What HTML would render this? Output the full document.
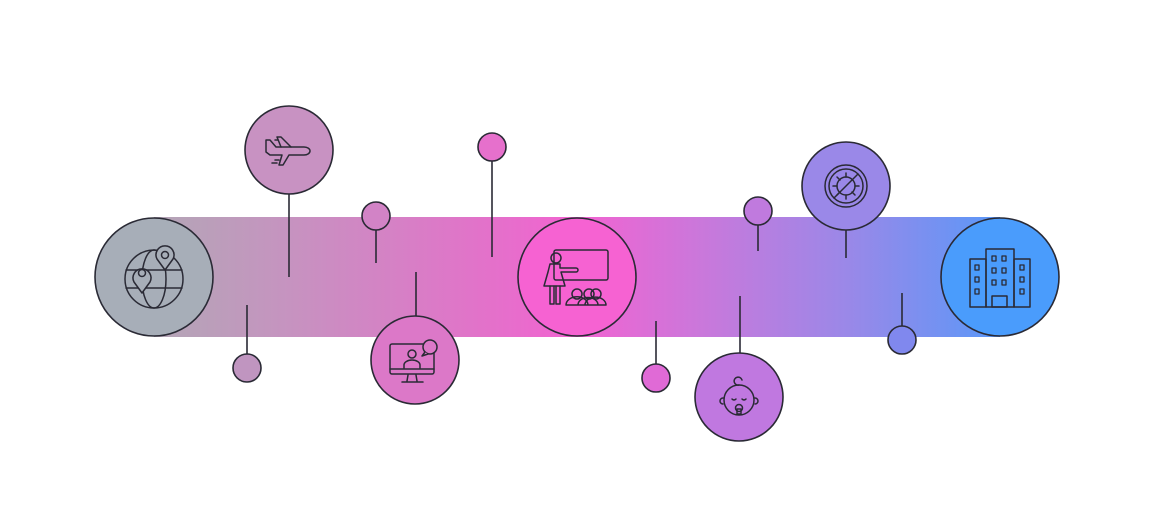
<!DOCTYPE html>
<html><head><meta charset="utf-8"><style>html,body{margin:0;padding:0;background:#fff}svg{display:block}</style></head>
<body>
<svg width="1154" height="529" viewBox="0 0 1154 529" xmlns="http://www.w3.org/2000/svg">
<defs>
<linearGradient id="g" x1="154" y1="0" x2="1000" y2="0" gradientUnits="userSpaceOnUse">
<stop offset="0" stop-color="#b3a6b6"/>
<stop offset="0.16" stop-color="#c693c0"/>
<stop offset="0.38" stop-color="#e173c9"/>
<stop offset="0.5" stop-color="#f263d1"/>
<stop offset="0.65" stop-color="#c978db"/>
<stop offset="0.82" stop-color="#9a88e8"/>
<stop offset="1" stop-color="#5a98f8"/>
</linearGradient>
</defs>
<rect x="154" y="217" width="846" height="120" fill="url(#g)"/>
<g stroke="#2a2a35" stroke-width="1.6" fill="none">
<line x1="289" y1="194" x2="289" y2="277"/>
<line x1="376" y1="230" x2="376" y2="263"/>
<line x1="492" y1="161" x2="492" y2="257"/>
<line x1="416" y1="272" x2="416" y2="316"/>
<line x1="247" y1="305" x2="247" y2="354"/>
<line x1="656" y1="321" x2="656" y2="364"/>
<line x1="740" y1="296" x2="740" y2="353"/>
<line x1="758" y1="225" x2="758" y2="251"/>
<line x1="846" y1="230" x2="846" y2="258"/>
<line x1="902" y1="293" x2="902" y2="326"/>
</g>
<g stroke="#2a2a35" stroke-width="1.6">
<circle cx="154" cy="277" r="59" fill="#a7aeb8"/>
<circle cx="289" cy="150" r="44" fill="#c892c2"/>
<circle cx="376" cy="216" r="14" fill="#d283c6"/>
<circle cx="492" cy="147" r="14" fill="#e670cc"/>
<circle cx="415" cy="360" r="44" fill="#dc78c8"/>
<circle cx="247" cy="368" r="14" fill="#c095c0"/>
<circle cx="577" cy="277" r="59" fill="#f662d2"/>
<circle cx="656" cy="378" r="14" fill="#e06ad6"/>
<circle cx="739" cy="397" r="44" fill="#c078e0"/>
<circle cx="758" cy="211" r="14" fill="#c07ade"/>
<circle cx="846" cy="186" r="44" fill="#9a88e8"/>
<circle cx="902" cy="340" r="14" fill="#8088ee"/>
<circle cx="1000" cy="277" r="59" fill="#4a9cfc"/>
</g>
<g stroke="#2a2a35" stroke-width="1.5" fill="none" stroke-linecap="round" stroke-linejoin="round">
<!-- globe -->
<circle cx="154" cy="279" r="29"/>
<ellipse cx="154" cy="279" rx="12" ry="29"/>
<line x1="126" y1="270" x2="182" y2="270"/><line x1="126" y1="288" x2="182" y2="288"/>
<path d="M142 293 l-8 -11 a9 9 0 1 1 16 0 z" fill="#a7aeb8"/><circle cx="142" cy="273" r="3.5"/>
<path d="M165 270 l-8 -11 a9 9 0 1 1 16 0 z" fill="#a7aeb8"/><circle cx="165" cy="255" r="3.5"/>
<!-- plane -->
<path d="M266 140 l4 0 l6 7 l28 0 a6 4 0 0 1 0 8 l-15 0 l-6 10 l-4 0 l3 -10 l-12 0 l-4 -3 z"/>
<path d="M281 147 l-4 -10 l4 0 l10 10"/>
<line x1="275" y1="140" x2="278" y2="140"/><line x1="275" y1="160" x2="279" y2="160"/><line x1="272" y1="163" x2="277" y2="163"/>
<!-- monitor -->
<rect x="390" y="344" width="44" height="30" rx="2"/>
<line x1="390" y1="369" x2="434" y2="369"/>
<path d="M408 375 l-1 6 M416 375 l1 6 M402 382 l21 0"/>
<circle cx="412" cy="354" r="4"/><path d="M404 368 v-3 a8 5 0 0 1 16 0 v3"/>
<circle cx="430" cy="347" r="7" fill="#dc78c8"/><path d="M425 352 l-3 4 l6 -2" fill="#dc78c8"/>
<!-- teacher -->
<rect x="554" y="250" width="54" height="30" rx="2"/>
<circle cx="556" cy="258" r="5"/>
<path d="M550 264 l10 0 l0 4 l16 0 a2 2 0 0 1 0 4 l-15 0 l4 14 l-21 0 l4 -14 z"/>
<path d="M550 286 v18 h4 v-18 M556 286 v18 h4 v-18"/>
<circle cx="577" cy="294" r="5"/><circle cx="589" cy="294" r="5"/><circle cx="596" cy="294" r="5"/>
<path d="M566 305 a8 6 0 0 1 22 0 M578 305 a8 6 0 0 1 20 0 M585 305 a8 6 0 0 1 21 0 M566 305 h40"/>
<!-- baby -->
<circle cx="739" cy="400" r="15"/>
<path d="M739 385 a4 4 0 1 1 3 -5"/>
<path d="M723 398 a3 3 0 0 0 0 6 M755 398 a3 3 0 0 1 0 6"/>
<path d="M732 399 q2 2 4 0 M742 399 q2 2 4 0"/>
<circle cx="739" cy="408" r="3.5"/><rect x="737" y="409" width="4" height="5"/>
<!-- virus -->
<circle cx="846" cy="186" r="21"/><circle cx="846" cy="186" r="17"/>
<line x1="834" y1="198" x2="858" y2="174"/>
<circle cx="846" cy="186" r="9"/>
<path d="M846 173 v4 M846 195 v4 M833 186 h4 M855 186 h4 M837 177 l3 3 M852 192 l3 3 M837 195 l3 -3"/>
<!-- building -->
<rect x="986" y="249" width="28" height="58"/>
<rect x="970" y="259" width="16" height="48"/><rect x="1014" y="259" width="16" height="48"/>
<rect x="992" y="296" width="15" height="11"/>
<g stroke-width="1.3">
<rect x="975" y="265" width="4" height="5"/><rect x="975" y="277" width="4" height="5"/><rect x="975" y="289" width="4" height="5"/>
<rect x="1020" y="265" width="4" height="5"/><rect x="1020" y="277" width="4" height="5"/><rect x="1020" y="289" width="4" height="5"/>
<rect x="992" y="256" width="4" height="5"/><rect x="1002" y="256" width="4" height="5"/>
<rect x="992" y="268" width="4" height="5"/><rect x="1002" y="268" width="4" height="5"/>
<rect x="992" y="280" width="4" height="5"/><rect x="1002" y="280" width="4" height="5"/>
</g>
</g>
</svg>
</body></html>
